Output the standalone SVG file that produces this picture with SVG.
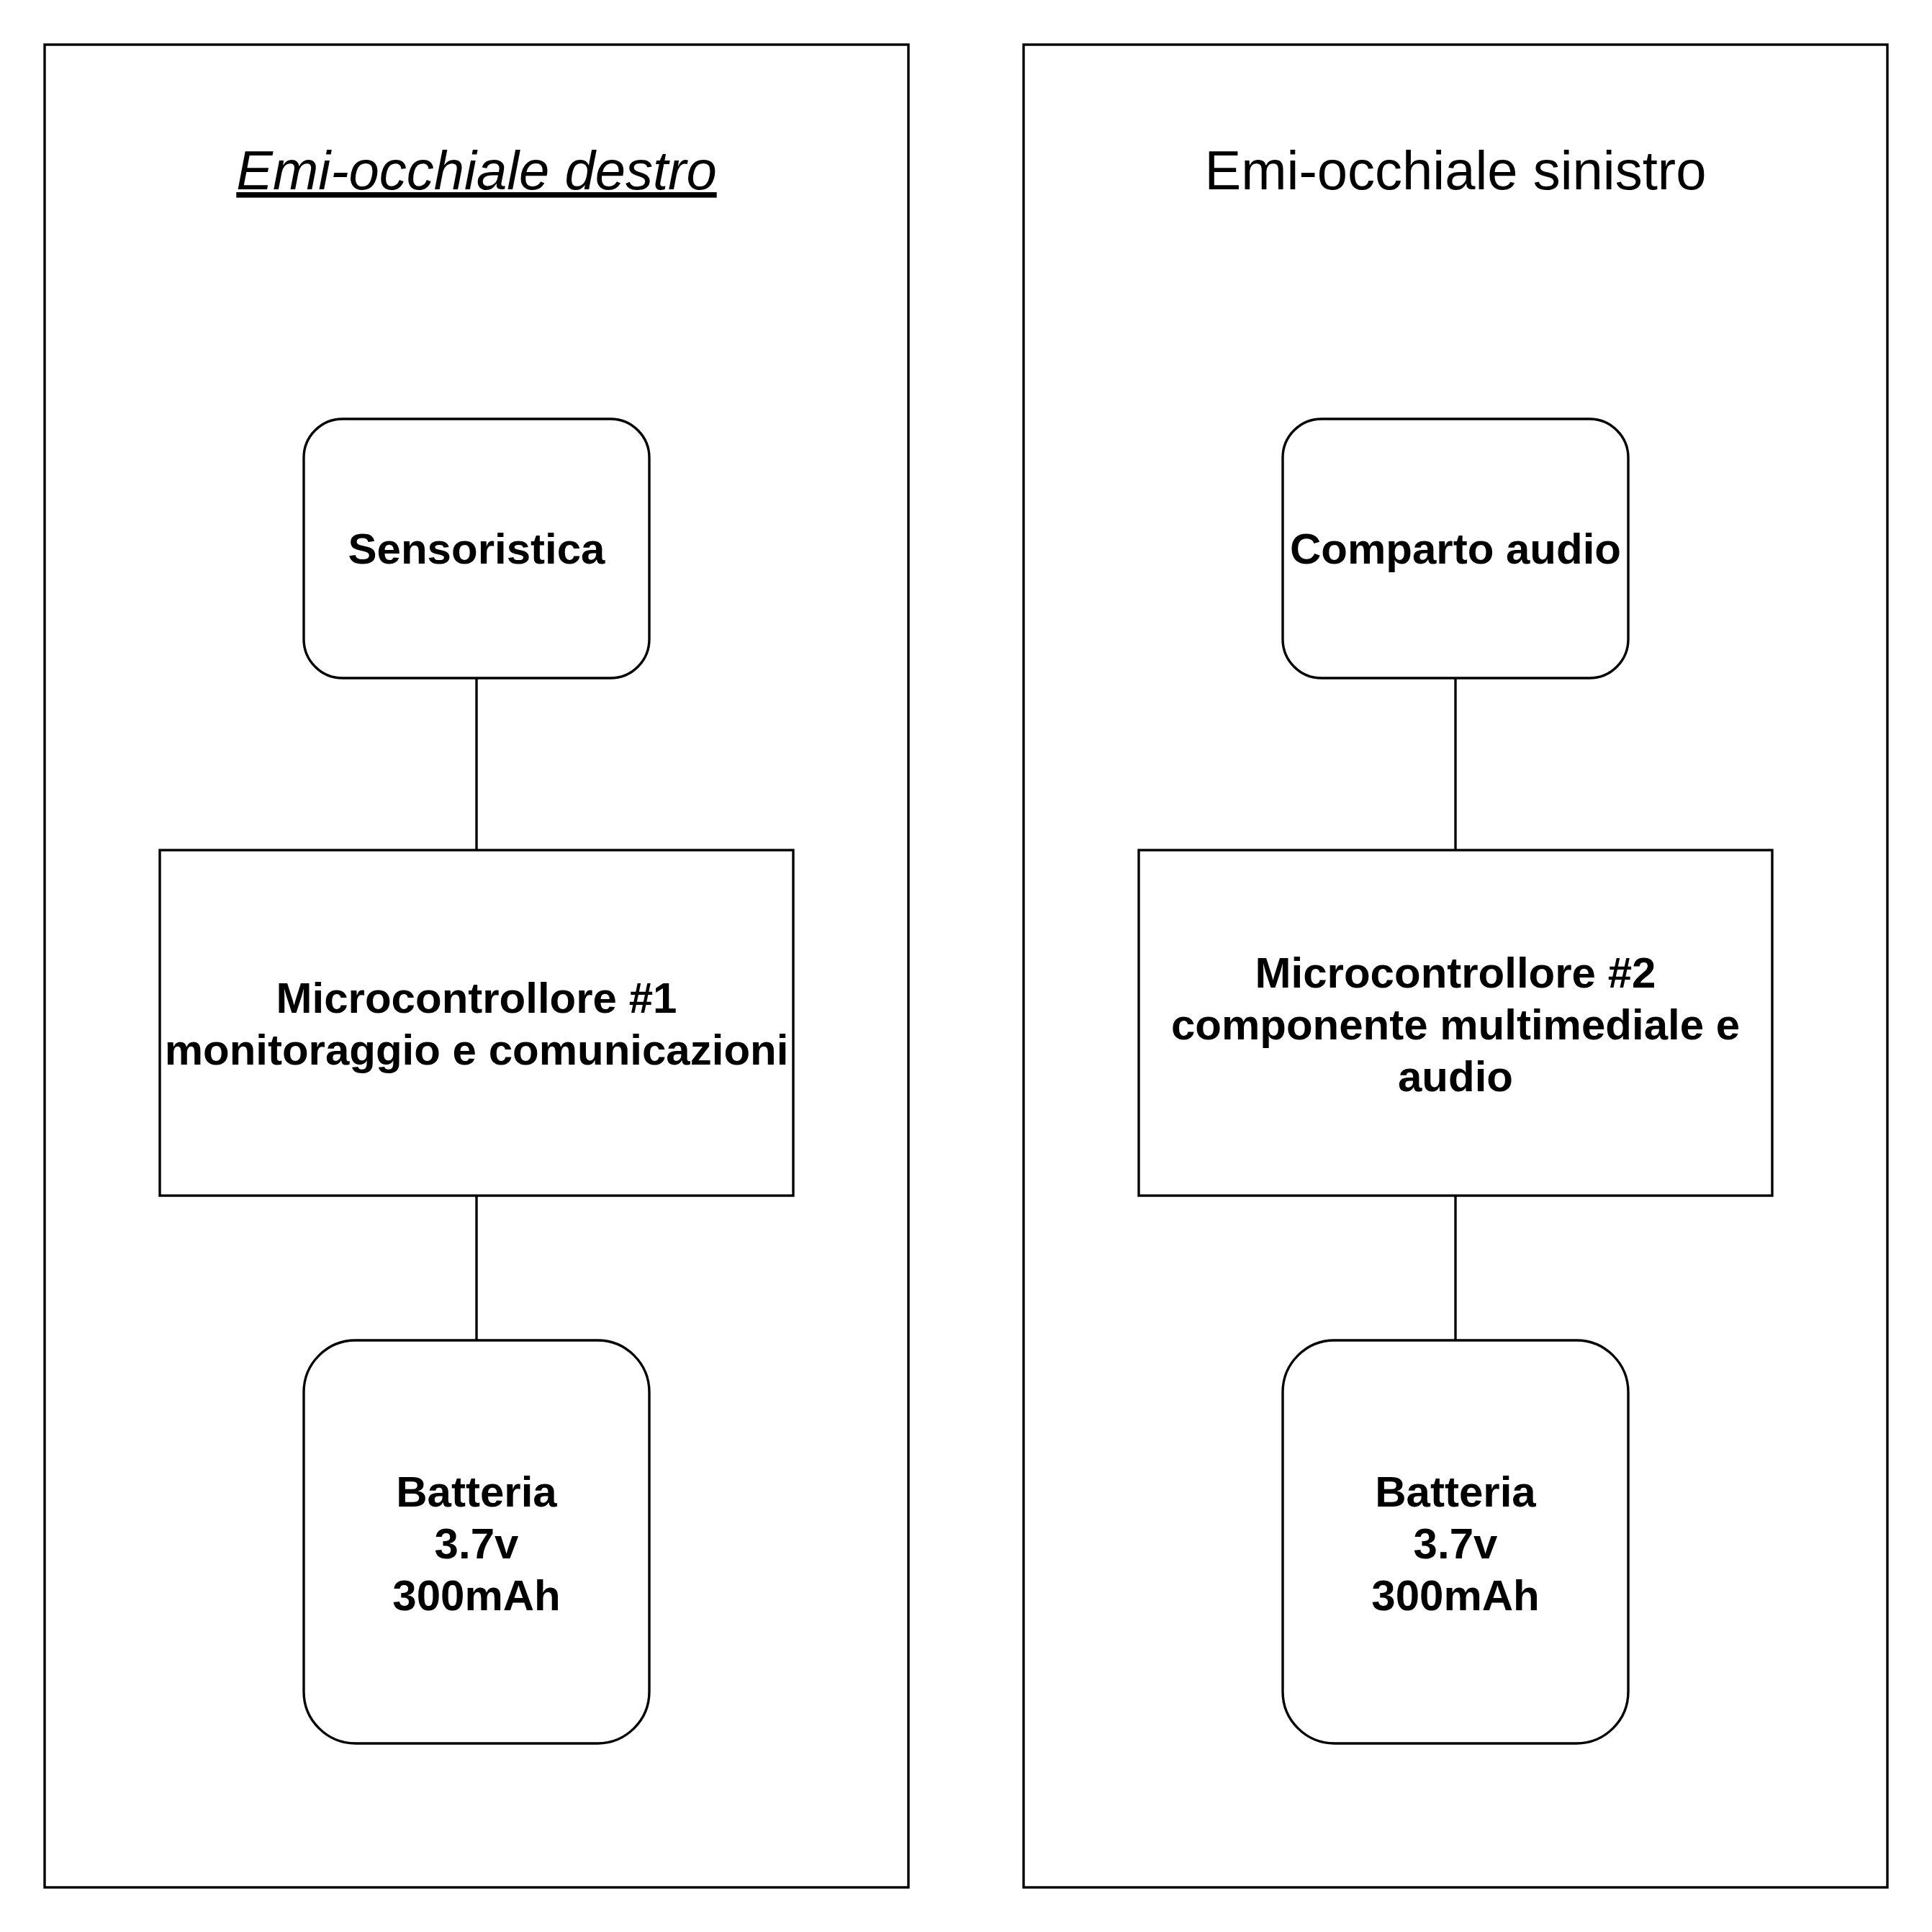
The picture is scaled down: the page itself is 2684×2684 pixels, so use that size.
<svg xmlns="http://www.w3.org/2000/svg" width="2684" height="2684" viewBox="0 0 2684 2684">
<style>
.box{fill:#ffffff;stroke:#000000;stroke-width:3.4}
.edge{fill:none;stroke:#000000;stroke-width:3.4}
.lbl{font-family:"Liberation Sans",Arial,sans-serif;font-weight:bold;font-size:60px;text-anchor:middle;fill:#000000}
.title{font-family:"Liberation Sans",Arial,sans-serif;font-size:76px;text-anchor:middle;fill:#000000}
</style>
<rect x="0" y="0" width="2684" height="2684" fill="#ffffff"/>
<g id="container-destro">
<rect class="box" x="62" y="62" width="1200" height="2560"/>
<text class="title" x="662" y="263" font-style="italic" text-decoration="underline">Emi-occhiale destro</text>
</g>
<g id="container-sinistro">
<rect class="box" x="1422" y="62" width="1200" height="2560"/>
<text class="title" x="2022" y="263">Emi-occhiale sinistro</text>
</g>
<g id="connectors">
<line class="edge" x1="662" y1="942" x2="662" y2="1181"/>
<line class="edge" x1="662" y1="1661" x2="662" y2="1862"/>
<line class="edge" x1="2022" y1="942" x2="2022" y2="1181"/>
<line class="edge" x1="2022" y1="1661" x2="2022" y2="1862"/>
</g>
<g id="sensoristica">
<rect class="box" x="422" y="582" width="480" height="360" rx="54" ry="54"/>
<text class="lbl" x="662" y="783">Sensoristica</text>
</g>
<g id="micro1">
<rect class="box" x="222" y="1181" width="880" height="480"/>
<text class="lbl" x="662" y="1407">Microcontrollore #1</text>
<text class="lbl" x="662" y="1479">monitoraggio e comunicazioni</text>
</g>
<g id="batteria1">
<rect class="box" x="422" y="1862" width="480" height="560" rx="72" ry="72"/>
<text class="lbl" x="662" y="2093">Batteria</text>
<text class="lbl" x="662" y="2165">3.7v</text>
<text class="lbl" x="662" y="2237">300mAh</text>
</g>
<g id="audio">
<rect class="box" x="1782" y="582" width="480" height="360" rx="54" ry="54"/>
<text class="lbl" x="2022" y="783">Comparto audio</text>
</g>
<g id="micro2">
<rect class="box" x="1582" y="1181" width="880" height="480"/>
<text class="lbl" x="2022" y="1372">Microcontrollore #2</text>
<text class="lbl" x="2022" y="1444">componente multimediale e</text>
<text class="lbl" x="2022" y="1516">audio</text>
</g>
<g id="batteria2">
<rect class="box" x="1782" y="1862" width="480" height="560" rx="72" ry="72"/>
<text class="lbl" x="2022" y="2093">Batteria</text>
<text class="lbl" x="2022" y="2165">3.7v</text>
<text class="lbl" x="2022" y="2237">300mAh</text>
</g>
</svg>
